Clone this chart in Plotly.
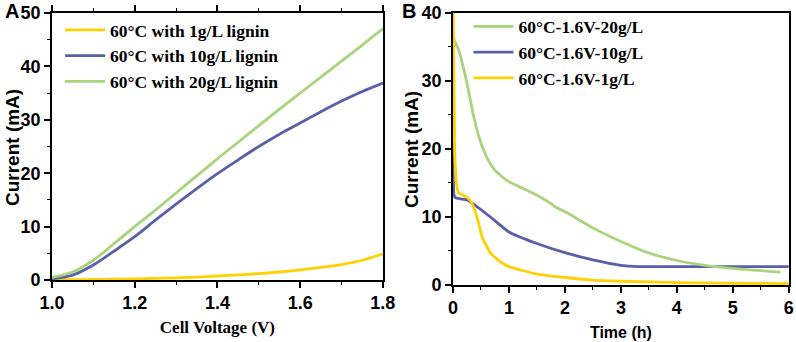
import plotly.graph_objects as go

# Panel A: current vs cell voltage
voltage = [1.0, 1.05, 1.1, 1.15, 1.2, 1.25, 1.3, 1.35, 1.4, 1.45, 1.5, 1.55, 1.6, 1.65, 1.7, 1.75, 1.8]
a_1g = [0.05, 0.07, 0.1, 0.15, 0.2, 0.3, 0.4, 0.55, 0.75, 0.95, 1.2, 1.5, 1.9, 2.35, 2.9, 3.7, 4.9]
a_10g = [0.2, 0.9, 2.8, 5.4, 8.1, 11.2, 14.2, 17.1, 19.9, 22.5, 25.0, 27.3, 29.4, 31.5, 33.5, 35.3, 36.9]
a_20g = [0.5, 1.5, 3.7, 6.8, 10.0, 13.1, 16.3, 19.5, 22.7, 25.8, 28.9, 32.0, 35.0, 38.0, 41.0, 44.0, 47.1]

# Panel B: current vs time
t_20g = [0.0, 0.1, 0.24, 0.36, 0.45, 0.54, 0.63, 0.72, 0.85, 1.0, 1.25, 1.5, 1.78, 1.82, 2.0, 2.5, 3.0, 3.5, 4.0, 4.5, 5.0, 5.5, 5.85]
b_20g = [36.5, 34.6, 30.1, 25.2, 22.2, 20.0, 18.4, 17.2, 16.1, 15.2, 14.2, 13.2, 11.8, 11.5, 10.8, 8.4, 6.4, 4.7, 3.6, 2.9, 2.45, 2.1, 1.9]
t_10g = [0.0, 0.02, 0.05, 0.25, 0.37, 0.67, 1.0, 1.5, 2.0, 2.5, 3.0, 3.3, 4.0, 5.0, 6.0]
b_10g = [21.0, 13.2, 12.8, 12.5, 11.9, 10.0, 7.8, 6.1, 4.75, 3.7, 2.9, 2.7, 2.7, 2.7, 2.7]
t_1g = [0.0, 0.03, 0.07, 0.1, 0.25, 0.34, 0.43, 0.52, 0.67, 0.85, 1.0, 1.5, 2.0, 2.5, 3.0, 4.0, 5.0, 6.0]
b_1g = [45.0, 20.0, 14.5, 13.6, 12.9, 12.0, 10.0, 7.1, 4.7, 3.4, 2.7, 1.6, 1.1, 0.7, 0.55, 0.35, 0.25, 0.2]

names_a = ["60°C with 1g/L lignin", "60°C with 10g/L lignin", "60°C with 20g/L lignin"]
names_b = ["60°C-1.6V-20g/L", "60°C-1.6V-10g/L", "60°C-1.6V-1g/L"]

YELLOW = "#FFD100"
BLUE = "#5B5FA9"
GREEN = "#A8D47C"

fig = go.Figure()
for y, n, c in [(a_1g, names_a[0], YELLOW), (a_10g, names_a[1], BLUE), (a_20g, names_a[2], GREEN)]:
    fig.add_trace(go.Scatter(x=voltage, y=y, name=n, mode="lines", line=dict(color=c, width=2.8, shape="spline", smoothing=0.8),
                             xaxis="x", yaxis="y", legend="legend"))

for (t, y, n, c, r) in [(t_10g, b_10g, names_b[1], BLUE, 2), (t_20g, b_20g, names_b[0], GREEN, 1),
                        (t_1g, b_1g, names_b[2], YELLOW, 3)]:
    fig.add_trace(go.Scatter(x=t, y=y, name=n, mode="lines", line=dict(color=c, width=2.8, shape="spline", smoothing=0.4),
                             xaxis="x2", yaxis="y2", legend="legend2", legendrank=r))

tickfont = dict(family="Liberation Sans, Arial", size=18, color="black", weight="bold")
sans_title = dict(family="Liberation Sans, Arial", size=19, color="black", weight="bold")
serif = dict(family="Liberation Serif, Times New Roman", size=17, color="black", weight="bold")
legfont = dict(family="Liberation Serif, Times New Roman", size=17.5, color="black", weight="bold")

common = dict(showline=True, linecolor="black", linewidth=1.5, ticks="outside", ticklen=6, tickwidth=1.5,
              tickcolor="black", showgrid=False, zeroline=False, tickfont=tickfont, automargin=False)
minor = dict(ticks="outside", ticklen=3.5, tickwidth=1.2, tickcolor="black", showgrid=False)

fig.update_layout(
    width=796, height=342, margin=dict(l=0, r=0, t=0, b=0, autoexpand=False),
    paper_bgcolor="white", plot_bgcolor="white",
    xaxis=dict(domain=[0.0653, 0.481], range=[1.0, 1.8], dtick=0.2, tickformat=".1f", mirror="ticks",
               minor=dict(dtick=0.1, **minor),
               title=dict(text="Cell Voltage (V)", font=serif, standoff=9), anchor="y", **common),
    yaxis=dict(domain=[0.1813, 0.962], range=[0, 50], dtick=10, mirror=True,
               minor=dict(dtick=5, **minor), anchor="x", **common),
    xaxis2=dict(domain=[0.569, 0.991], range=[0, 6], dtick=1, mirror=True,
                minor=dict(dtick=0.5, **minor),
                title=dict(text="Time (h)", font=dict(family="Liberation Sans, Arial", size=16, color="black", weight="bold"), standoff=9),
                anchor="y2", **common),
    yaxis2=dict(domain=[0.1667, 0.962], range=[0, 40], dtick=10, mirror=True,
                minor=dict(dtick=5, **minor), anchor="x2", **common),
    legend=dict(x=0.0755, y=0.965, xanchor="left", yanchor="top", font=legfont, bgcolor="rgba(0,0,0,0)",
                tracegroupgap=0, itemwidth=40),
    legend2=dict(x=0.5885, y=0.975, xanchor="left", yanchor="top", font=legfont, bgcolor="rgba(0,0,0,0)",
                 tracegroupgap=0, itemwidth=40),
    showlegend=True,
    annotations=[
        dict(text="A", x=0.004, y=1.005, xref="paper", yref="paper", xanchor="left", yanchor="top",
             showarrow=False, font=dict(family="Liberation Sans, Arial", size=20, color="black", weight="bold")),
        dict(text="B", x=0.503, y=1.005, xref="paper", yref="paper", xanchor="left", yanchor="top",
             showarrow=False, font=dict(family="Liberation Sans, Arial", size=20, color="black", weight="bold")),
        dict(text="Current (mA)", x=12 / 796, y=1 - 148 / 342, xref="paper", yref="paper", xanchor="center",
             yanchor="middle", textangle=-90, showarrow=False, font=sans_title),
        dict(text="Current (mA)", x=411 / 796, y=1 - 150 / 342, xref="paper", yref="paper", xanchor="center",
             yanchor="middle", textangle=-90, showarrow=False, font=sans_title),
    ],
)

fig.write_html("out.html", config={"displayModeBar": False},
               post_script="document.body.style.margin='0px';document.body.style.overflow='hidden';")
